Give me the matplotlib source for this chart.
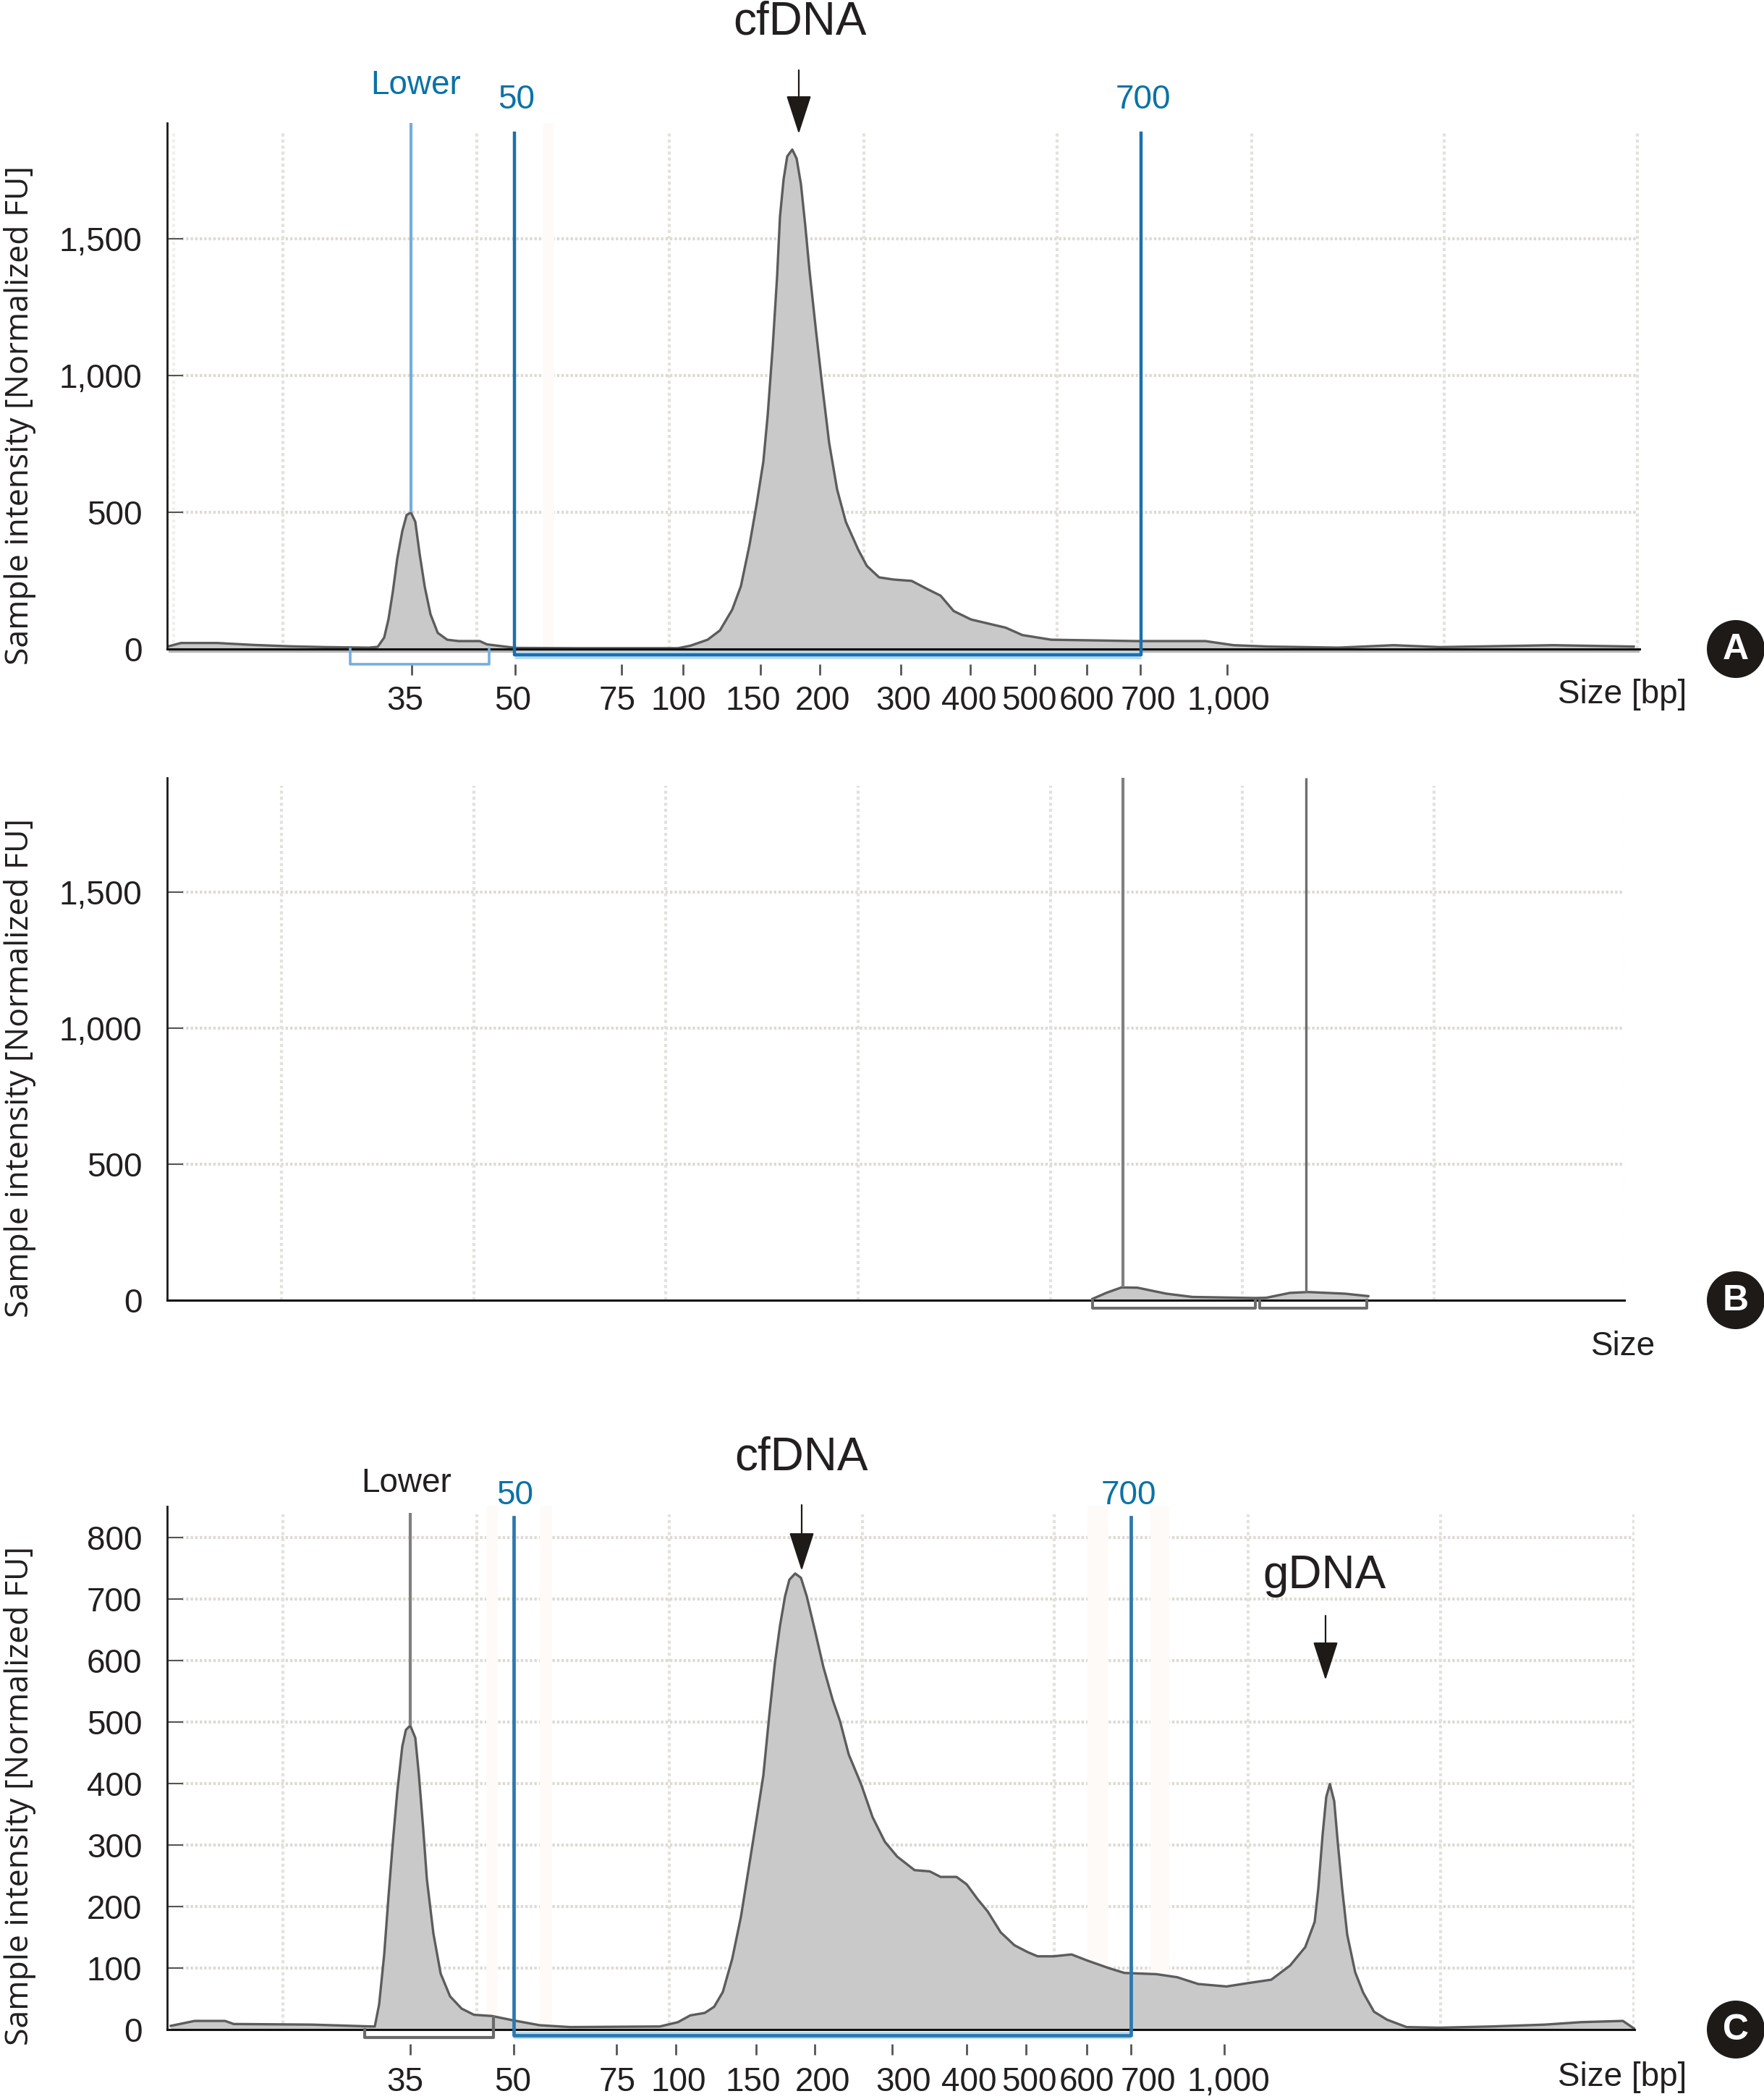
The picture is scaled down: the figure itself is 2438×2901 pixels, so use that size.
import matplotlib
matplotlib.use("Agg")
from matplotlib import pyplot as plt
from matplotlib.patches import Ellipse

W, H = 2438, 2901
plt.rcParams["font.family"] = ["Liberation Sans", "DejaVu Sans"]

# size ladder, positions along the migration axis (px columns of the electropherogram)
size_labels = ["35", "50", "75", "100", "150", "200", "300", "400", "500", "600", "700", "1,000"]
label_pos = [560, 709, 853, 938, 1041, 1137, 1249, 1339, 1422, 1502, 1587, 1698]
ticks_a = [569, 712, 859, 944, 1051, 1133, 1245, 1341, 1430, 1502, 1576, 1696]
ticks_c = [567, 710, 852, 934, 1045, 1126, 1233, 1336, 1418, 1502, 1563, 1692]

grid_a = [391, 659, 925, 1194, 1461, 1730, 1996, 2263]
grid_b = [389, 655, 920, 1186, 1452, 1717, 1982, 2247]
grid_c = [391, 659, 925, 1192, 1457, 1725, 1991, 2258]

yticks_a = [0, 500, 1000, 1500]
yticks_c = [0, 100, 200, 300, 400, 500, 600, 700, 800]

# traces
ax_x = [233, 250, 300, 350, 400, 450, 510, 522, 531, 537, 543, 549, 556, 562, 568, 574, 580, 587, 595,
        605, 618, 634, 663, 673, 713, 800, 937, 954, 978, 995, 1012, 1024, 1036, 1046, 1055, 1061, 1068,
        1074, 1078, 1083, 1088, 1095, 1101, 1107, 1113, 1119, 1128, 1136, 1146, 1157, 1169, 1186, 1198,
        1215, 1235, 1260, 1281, 1300, 1318, 1342, 1390, 1413, 1453, 1571, 1666, 1705, 1753, 1850, 1926,
        1990, 2147, 2258]
ax_y = [10, 22, 22, 15, 10, 7, 5, 8, 42, 110, 211, 330, 431, 490, 499, 465, 347, 228, 127,
        59, 34, 29, 29, 17, 4, 3, 3, 12, 34, 68, 144, 230, 382, 534, 685, 854, 1107,
        1361, 1581, 1717, 1801, 1826, 1793, 1699, 1547, 1378, 1158, 972, 753, 583, 465, 364, 304,
        262, 254, 249, 220, 195, 139, 108, 78, 51, 34, 29, 29, 14, 9, 5, 14,
        7, 14, 9]

bx_x = [1510, 1529, 1550, 1572, 1612, 1648, 1735, 1750, 1783, 1808, 1859, 1891]
bx_y = [5, 27, 47, 46, 24, 12, 8, 9, 27, 30, 24, 15]

cx_x = [236, 269, 311, 323, 431, 514, 518, 524, 531, 537, 543, 549, 556, 561, 567, 574, 579, 585, 590,
        599, 609, 622, 638, 655, 680, 709, 746, 788, 912, 937, 954, 974, 987, 999, 1012, 1024, 1036,
        1046, 1055, 1063, 1071, 1078, 1085, 1091, 1099, 1107, 1115, 1126, 1138, 1151, 1161, 1173, 1190,
        1206, 1223, 1240, 1264, 1285, 1300, 1322, 1336, 1351, 1365, 1383, 1402, 1420, 1434, 1456, 1481,
        1503, 1532, 1554, 1598, 1627, 1656, 1695, 1728, 1757, 1783, 1804, 1817, 1822, 1828, 1833, 1838,
        1844, 1849, 1855, 1862, 1873, 1884, 1899, 1917, 1944, 1989, 2062, 2135, 2185, 2243, 2258]
cx_y = [6, 14, 14, 9, 8, 5, 5, 41, 122, 217, 305, 386, 460, 487, 494, 474, 413, 325, 244,
        156, 91, 54, 34, 24, 22, 15, 7, 4, 5, 12, 23, 27, 37, 61, 115, 183, 271,
        345, 413, 508, 596, 656, 704, 731, 741, 734, 704, 650, 589, 535, 501, 447, 399,
        345, 305, 281, 259, 257, 248, 248, 236, 212, 192, 158, 137, 126, 119, 119, 122,
        112, 100, 92, 90, 85, 74, 70, 76, 81, 104, 134, 175, 229, 317, 378, 399,
        371, 303, 229, 154, 93, 60, 29, 16, 4, 3, 5, 8, 12, 14, 2]

fig = plt.figure(figsize=(W / 100, H / 100), dpi=100, facecolor="white")


def panel(left, right, top, bottom, fu_top, yticks, grid_x, ticks, tick_y, lab_y):
    ax = fig.add_axes([left / W, 1 - bottom / H, (right - left) / W, (bottom - top) / H])
    ax.set_xlim(left, right)
    ax.set_ylim(0, fu_top)
    ax.patch.set_alpha(0)
    for s in ["top", "right"]:
        ax.spines[s].set_visible(False)
    ax.spines["left"].set_linewidth(2)
    ax.spines["bottom"].set_linewidth(2.2)
    ax.spines["left"].set_color("#1a1a1a")
    ax.spines["bottom"].set_color("#111111")
    ax.set_yticks(yticks)
    ax.set_yticklabels([f"{v:,}" for v in yticks])
    ax.tick_params(axis="y", direction="in", length=16, width=1.5, color="#555555", labelsize=33,
                   pad=25, labelcolor="#231f20")
    ax.set_xticks([])
    ax.hlines([v for v in yticks if v > 0], left + 20, right - 3, color="#dedad4", lw=3,
              linestyle=(0, (0.8, 0.7)), zorder=0)
    ax.vlines(grid_x, 0, fu_top * 0.985, color="#e4e1dc", lw=3, linestyle=(0, (1, 1)), zorder=0)
    if ticks:
        frac = (bottom - tick_y) / (bottom - top)
        sec = ax.secondary_xaxis(frac)
        sec.set_xticks(ticks, [""] * len(ticks))
        sec.tick_params(direction="out", length=11, width=2, color="#555555")
        sec.spines["bottom"].set_visible(False)
        frac2 = (bottom - lab_y) / (bottom - top)
        sec2 = ax.secondary_xaxis(frac2)
        sec2.set_xticks(label_pos, size_labels)
        sec2.tick_params(length=0, pad=0, labelsize=33, labelcolor="#231f20")
        sec2.spines["bottom"].set_visible(False)
    return ax


def trace(ax, x, y):
    ax.fill_between(x, 0, y, color="#c9c9c9", lw=0, zorder=1)
    ax.plot(x, y, color="#5c5c5c", lw=2.4, zorder=2, clip_on=False)


ax_a = panel(231, 2266, 170, 897, 1923, yticks_a, grid_a, ticks_a, 918, 947)
ax_b = panel(231, 2245, 1075, 1797, 1920, yticks_a, grid_b, None, 0, 0)
ax_c = panel(231, 2259, 2082, 2805, 850, yticks_c, grid_c, ticks_c, 2825, 2856)

trace(ax_a, ax_x, ax_y)
trace(ax_b, bx_x, bx_y)
trace(ax_c, cx_x, cx_y)

blue = "#1b6fae"
light = "#74aede"
grey = "#808080"

# panel A markers
ax_a.vlines(240, 0, 1890, color="#f1efec", lw=3, linestyle=(0, (1, 1)), zorder=0)
ax_a.hlines(-8, 233, 2266, color="#b4b4b4", lw=3, clip_on=False, zorder=1)
ax_a.vlines(568, 499, 1923, color=light, lw=3, zorder=3)
ax_a.plot([484, 484, 676, 676], [0, -55, -55, 0], color=light, lw=2.6, clip_on=False, zorder=3)
ax_a.hlines(-22, 711, 1577, color="#b6dcf2", lw=8, clip_on=False, zorder=2)
ax_a.plot([711, 711, 1577, 1577], [1885, -22, -22, 1885], color=blue, lw=3.2, clip_on=False, zorder=3)
ax_a.axvspan(750, 766, color="#fefaf8", lw=0, zorder=0)

# panel B markers
ax_b.vlines(1552, 47, 1920, color=grey, lw=3, zorder=3)
ax_b.vlines(1805, 30, 1920, color="#6e6e6e", lw=2.4, zorder=3)
ax_b.plot([1510, 1510, 1735, 1735], [0, -29, -29, 0], color="#6a6a6a", lw=2.8, clip_on=False, zorder=3)
ax_b.plot([1741, 1741, 1889, 1889], [0, -29, -29, 0], color="#6a6a6a", lw=2.8, clip_on=False, zorder=3)

# panel C markers
ax_c.vlines(567, 494, 840, color=grey, lw=3, zorder=3)
ax_c.plot([504, 504, 682, 682], [0, -13, -13, 20], color="#6a6a6a", lw=3, clip_on=False, zorder=3)
ax_c.hlines(-9, 710, 1563, color="#b6dcf2", lw=7, clip_on=False, zorder=2)
ax_c.plot([710, 710, 1563, 1563], [832, -9, -9, 832], color="#2c78b0", lw=3.4, clip_on=False, zorder=3)
for x0, x1 in [(672, 688), (746, 763), (1503, 1532), (1590, 1616)]:
    ax_c.axvspan(x0, x1, color="#fefaf8", lw=0, zorder=0)

# overlay in picture pixels for the annotation layer
over = fig.add_axes([0, 0, 1, 1], zorder=10)
over.set_xlim(0, W)
over.set_ylim(H, 0)
over.axis("off")


def arrow(x, y0, y1):
    over.annotate("", xy=(x, y1), xytext=(x, y0),
                  arrowprops=dict(arrowstyle="-|>,head_length=34,head_width=11", mutation_scale=1,
                                  lw=1.6, color="#1d1a18", shrinkA=0, shrinkB=0))


for y in [574, 1476, 2482]:
    over.text(28, y, "Sample intensity [Normalized FU]", rotation=90, ha="center", va="center",
              fontsize=32, family=["Open Sans", "DejaVu Sans"], color="#231f20")

big = dict(ha="center", va="center", fontsize=46, color="#231f20")
over.text(1106, 30, "cfDNA", **big)
over.text(1108, 2014, "cfDNA", **big)
over.text(1831, 2178, "gDNA", **big)
arrow(1104, 97, 185)
arrow(1108, 2080, 2171)
arrow(1832, 2233, 2322)

note = dict(ha="center", va="center", fontsize=33)
over.text(575, 118, "Lower", color="#0a72a8", **note)
over.text(714, 138, "50", color="#0a72a8", **note)
over.text(1580, 138, "700", color="#0a72a8", **note)
over.text(562, 2050, "Lower", color="#231f20", **note)
over.text(712, 2067, "50", color="#0a72a8", **note)
over.text(1560, 2067, "700", color="#0a72a8", **note)
over.text(2242, 960, "Size [bp]", color="#231f20", **note)
over.text(2244, 1861, "Size", color="#231f20", **note)
over.text(2242, 2871, "Size [bp]", color="#231f20", **note)

for y, letter in [(897, "A"), (1797, "B"), (2805, "C")]:
    over.add_patch(Ellipse((2399, y), 80, 80, color="#1d1a18", lw=0))
    over.text(2399, y + 1, letter, color="white", ha="center", va="center", fontsize=36,
              fontweight="bold", family=["Liberation Sans", "DejaVu Sans"])

fig.savefig("out.png", dpi=100, facecolor="white")
